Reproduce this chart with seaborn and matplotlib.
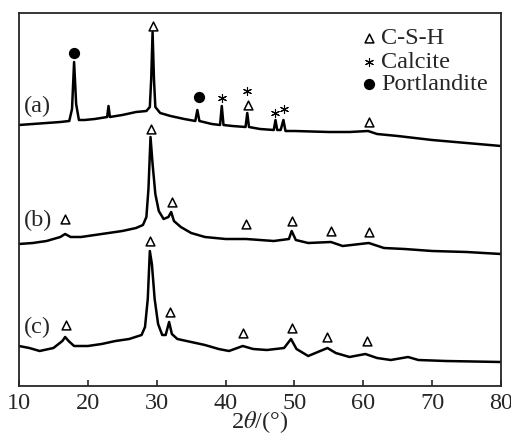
import numpy as np
import pandas as pd
import seaborn as sns
import matplotlib.pyplot as plt

# XRD traces (2theta in degrees, intensity in arbitrary offset units)
x_a = [10, 12, 14, 16, 17.3, 17.7, 18.0, 18.3, 18.7, 19.5, 21, 22.8, 23.0, 23.2, 25, 27, 28.5,
       29.0, 29.2, 29.4, 29.6, 29.8, 30.5, 32, 34, 35.6, 35.9, 36.2, 38, 39.2, 39.45, 39.7, 41,
       42.9, 43.15, 43.4, 45, 47.0, 47.25, 47.5, 48.0, 48.4, 48.7, 50, 55, 58, 60.7, 62, 65, 70, 75, 80]
y_a = [261, 262, 263, 264, 265, 277, 324, 282, 266, 266, 267, 269, 280, 269, 271, 274, 275,
       279, 307, 354, 307, 279, 273, 270, 267, 265, 276, 265, 262, 261, 280, 261, 260,
       259, 273, 259, 257, 256, 266, 256, 256, 266, 255, 255, 254, 254, 255, 252, 250, 246, 243, 240]

x_b = [10, 12, 14, 16, 16.7, 17.5, 19, 21, 23, 25, 27, 28.0, 28.5, 28.8, 29.1, 29.4, 29.8, 30.3,
       31, 31.7, 32.1, 32.5, 33.5, 35, 37, 40, 43, 45, 47, 49.2, 49.6, 50.2, 52, 55.3, 57, 60.8,
       63, 66, 70, 75, 80]
y_b = [142, 143, 145, 149, 152, 149, 149, 151, 153, 155, 158, 161, 169, 197, 249, 222, 192, 175,
       167, 169, 174, 165, 159, 153, 149, 147, 147, 146, 145, 147, 155, 146, 143, 144, 140, 143,
       138, 137, 135, 134, 132]

x_c = [10, 11.5, 13, 15, 16.3, 16.7, 17.2, 18, 20, 22, 24, 26, 27.8, 28.3, 28.7, 29.0, 29.3, 29.7,
       30.2, 30.8, 31.3, 31.8, 32.2, 33, 35, 37, 39, 40.5, 42.5, 44, 46, 48.5, 49.5, 50.3, 52, 54.8,
       56, 58, 60.3, 62, 64, 66.5, 68, 72, 80]
y_c = [40, 38, 35, 38, 45, 49, 45, 40, 40, 42, 45, 47, 51, 59, 87, 135, 122, 87,
       62, 51, 51, 64, 52, 47, 44, 41, 37, 35, 40, 37, 36, 38, 47, 37, 30, 38,
       33, 29, 32, 28, 26, 29, 26, 25, 24]

# phase markers: (2theta, height)
csh_x = [29.4, 43.3, 60.8, 16.7, 29.2, 32.2, 43.0, 49.7, 55.3, 60.8, 16.8, 29.0, 32.0, 42.5, 49.7, 54.8, 60.6]
csh_y = [360, 281, 264, 167, 257, 184, 162, 165, 155, 154, 61, 145, 74, 53, 58, 49, 45]
calcite_x = [39.5, 43.1, 47.2, 48.5]
calcite_y = [288, 295, 273, 277]
portlandite_x = [18.0, 36.1]
portlandite_y = [333, 289]

sample_labels = ["(a)", "(b)", "(c)"]
label_y = [281, 167, 60]

df = pd.concat([
    pd.DataFrame({"two_theta": x_a, "intensity": y_a, "sample": "a"}),
    pd.DataFrame({"two_theta": x_b, "intensity": y_b, "sample": "b"}),
    pd.DataFrame({"two_theta": x_c, "intensity": y_c, "sample": "c"}),
])

sns.set_style("ticks")
plt.rcParams["font.family"] = ["Liberation Serif", "DejaVu Serif"]
plt.rcParams["mathtext.fontset"] = "stix"

fig = plt.figure(figsize=(5.11, 4.39), dpi=100)
ax = fig.add_axes([19 / 511, 52 / 439, 482 / 511, 373 / 439])

sns.lineplot(data=df, x="two_theta", y="intensity", hue="sample", units="sample", estimator=None,
             palette=["black"] * 3, linewidth=1.8, legend=False, ax=ax)

ax.scatter(csh_x, csh_y, marker="^", s=40, facecolors="white", edgecolors="black", linewidths=1.1, zorder=3)
ax.scatter(calcite_x, calcite_y, marker=(6, 2, 0), s=34, color="black", linewidths=0.8, zorder=3)
ax.scatter(portlandite_x, portlandite_y, marker="o", s=50, color="black", zorder=3)

for lab, yy in zip(sample_labels, label_y):
    ax.text(12.7, yy, lab, fontsize=17.5, ha="center", va="center")

# legend
ax.scatter([60.8], [348], marker="^", s=40, facecolors="white", edgecolors="black", linewidths=1.1)
ax.scatter([60.8], [324], marker=(6, 2, 0), s=34, color="black", linewidths=0.8)
ax.scatter([60.8], [302], marker="o", s=50, color="black")
for txt, yy in zip(["C-S-H", "Calcite", "Portlandite"], [348, 324, 302]):
    ax.text(62.6, yy, txt, fontsize=17.5, ha="left", va="center")

ax.set_xlim(10, 80)
ax.set_ylim(0, 373)
ax.set_xticks([10, 20, 30, 40, 50, 60, 70, 80])
ax.set_yticks([])
ax.tick_params(axis="x", direction="in", length=4, width=1.2, labelsize=17.5, pad=4)
for sp in ax.spines.values():
    sp.set_visible(True)
    sp.set_linewidth(1.3)
ax.set_xlabel(r"2$\theta$/(°)", fontsize=17.5, labelpad=-3)
ax.set_ylabel("")

fig.savefig("out.png", dpi=100)
